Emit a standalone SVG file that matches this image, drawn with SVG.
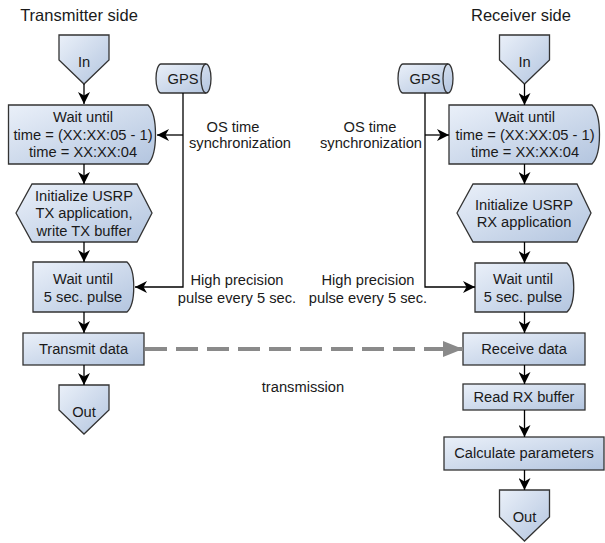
<svg xmlns="http://www.w3.org/2000/svg" width="605" height="543" viewBox="0 0 605 543">
<defs>
<linearGradient id="g" x1="0" y1="0" x2="1" y2="1">
<stop offset="0" stop-color="#eaf0f9"/>
<stop offset="1" stop-color="#b3c5df"/>
</linearGradient>
<marker id="ah" viewBox="0 0 12 12" markerWidth="12" markerHeight="12" refX="12" refY="6" orient="auto" markerUnits="userSpaceOnUse">
<path d="M0,0 L12,6 L0,12 L3.5,6 Z" fill="#000"/>
</marker>
<marker id="gah" viewBox="0 0 20 16" markerWidth="20" markerHeight="16" refX="20" refY="8" orient="auto" markerUnits="userSpaceOnUse">
<path d="M0,0 L20,8 L0,16 Z" fill="#8a8a8a"/>
</marker>
</defs>
<style>
.s{fill:url(#g);stroke:#333;stroke-width:1.3}
.t{font-family:"Liberation Sans",Arial,sans-serif;font-size:14.7px;fill:#1a1a1a;text-anchor:middle}
.h{font-family:"Liberation Sans",Arial,sans-serif;font-size:16.5px;fill:#1a1a1a;text-anchor:middle}
.c{fill:none;stroke:#000;stroke-width:1.3;marker-end:url(#ah)}
.d{fill:none;stroke:#8a8a8a;stroke-width:4;stroke-dasharray:22 9;marker-end:url(#gah)}
</style>
<text class="h" x="79" y="21">Transmitter side</text>
<text class="h" x="521" y="21">Receiver side</text>

<g id="tx-in"><path class="s" d="M59,35 H109 V60 L84,84 L59,60 Z"/><text class="t" x="84" y="67">In</text></g>
<g id="tx-gps"><path class="s" d="M161,64 H206 A5,14.5 0 0 1 206,93 H161 A5,14.5 0 0 1 161,64 Z"/><path d="M206,64 A5,14.5 0 0 0 206,93" fill="none" stroke="#333" stroke-width="1.3"/><text class="t" x="183" y="84">GPS</text></g>
<g id="tx-wait1"><path class="s" d="M8.5,105 H148 C158,115 158,154 148,164 H8.5 Z"/><text class="t" x="83" y="122">Wait until</text><text class="t" x="83" y="140">time = (XX:XX:05 - 1)</text><text class="t" x="83" y="157">time = XX:XX:04</text></g>
<g id="tx-init"><path class="s" d="M16,213 L32,184 H137 L152,213 L137,242 H32 Z"/><text class="t" x="84" y="201">Initialize USRP</text><text class="t" x="84" y="218">TX application,</text><text class="t" x="84" y="236">write TX buffer</text></g>
<g id="tx-wait2"><path class="s" d="M33,262 H127 C136,270 136,304 127,312 H33 Z"/><text class="t" x="83" y="284">Wait until</text><text class="t" x="83" y="302">5 sec. pulse</text></g>
<g id="tx-transmit"><rect class="s" x="23" y="333" width="121" height="32"/><text class="t" x="83.5" y="354">Transmit data</text></g>
<g id="tx-out"><path class="s" d="M59,385 H109 V410 L84,434 L59,410 Z"/><text class="t" x="84" y="417">Out</text></g>

<g id="rx-in"><path class="s" d="M499.5,35 H549.5 V60 L524.5,84 L499.5,60 Z"/><text class="t" x="524.5" y="67">In</text></g>
<g id="rx-gps"><path class="s" d="M403,64 H448 A5,14.5 0 0 1 448,93 H403 A5,14.5 0 0 1 403,64 Z"/><path d="M448,64 A5,14.5 0 0 0 448,93" fill="none" stroke="#333" stroke-width="1.3"/><text class="t" x="425" y="84">GPS</text></g>
<g id="rx-wait1"><path class="s" d="M449,105 H592 C602,115 602,154 592,164 H449 Z"/><text class="t" x="525" y="122">Wait until</text><text class="t" x="525" y="140">time = (XX:XX:05 - 1)</text><text class="t" x="525" y="157">time = XX:XX:04</text></g>
<g id="rx-init"><path class="s" d="M457,213 L473,184 H577 L591,213 L577,242 H473 Z"/><text class="t" x="524" y="210">Initialize USRP</text><text class="t" x="524" y="227">RX application</text></g>
<g id="rx-wait2"><path class="s" d="M475,263 H567 C576,271 576,304 567,312 H475 Z"/><text class="t" x="523" y="284">Wait until</text><text class="t" x="523" y="302">5 sec. pulse</text></g>
<g id="rx-receive"><rect class="s" x="463" y="333" width="122" height="32"/><text class="t" x="524" y="354">Receive data</text></g>
<g id="rx-read"><rect class="s" x="463" y="384" width="122" height="26"/><text class="t" x="524" y="402">Read RX buffer</text></g>
<g id="rx-calc"><rect class="s" x="444" y="437" width="160" height="33"/><text class="t" x="524" y="458">Calculate parameters</text></g>
<g id="rx-out"><path class="s" d="M499.5,490 H549.5 V517 L524.5,541 L499.5,517 Z"/><text class="t" x="524.5" y="522">Out</text></g>

<g id="labels">
<text class="t" x="233" y="132">OS time</text>
<text class="t" x="240" y="148">synchronization</text>
<text class="t" x="237" y="285">High precision</text>
<text class="t" x="237" y="303">pulse every 5 sec.</text>
<text class="t" x="370" y="132">OS time</text>
<text class="t" x="371" y="148">synchronization</text>
<text class="t" x="368" y="285">High precision</text>
<text class="t" x="368" y="303">pulse every 5 sec.</text>
<text class="t" x="303" y="392">transmission</text>
</g>

<g id="connectors">
<path class="c" d="M84,84 V104"/>
<path class="c" d="M84,164 V184"/>
<path class="c" d="M84,242 V262"/>
<path class="c" d="M84,312 V333"/>
<path class="c" d="M84,365 V385"/>
<path class="c" d="M183,135 H157"/>
<path class="c" d="M183,93 V287 H135"/>
<path class="c" d="M524.5,84 V105"/>
<path class="c" d="M524.5,164 V184"/>
<path class="c" d="M524.5,242 V263"/>
<path class="c" d="M524.5,312 V333"/>
<path class="c" d="M524.5,365 V384"/>
<path class="c" d="M524.5,410 V437"/>
<path class="c" d="M524.5,470 V490"/>
<path class="c" d="M425,135 H449"/>
<path class="c" d="M425,93 V287 H475"/>
<path class="d" d="M145,349 H463"/>
</g>
</svg>
